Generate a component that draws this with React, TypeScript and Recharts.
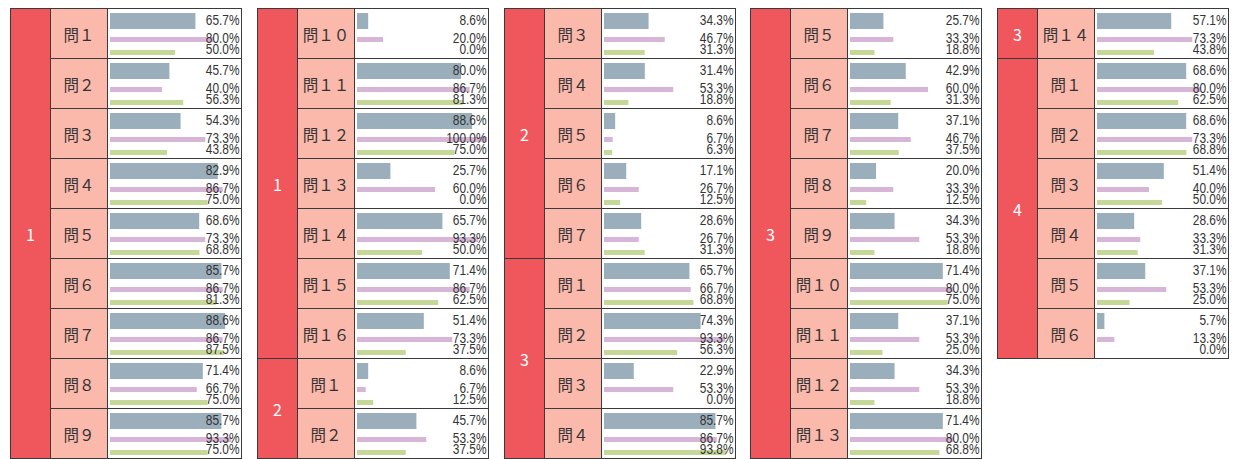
import React from "react";
import { BarChart, Bar, XAxis, YAxis, LabelList } from "recharts";

// sections (red column) and their question labels
const sectionNames = ["1", "2", "3", "4"];

const sec1Labels = ["問１", "問２", "問３", "問４", "問５", "問６", "問７", "問８", "問９", "問１０", "問１１", "問１２", "問１３", "問１４", "問１５", "問１６"];
const sec1A = [65.7, 45.7, 54.3, 82.9, 68.6, 85.7, 88.6, 71.4, 85.7, 8.6, 80.0, 88.6, 25.7, 65.7, 71.4, 51.4];
const sec1B = [80.0, 40.0, 73.3, 86.7, 73.3, 86.7, 86.7, 66.7, 93.3, 20.0, 86.7, 100.0, 60.0, 93.3, 86.7, 73.3];
const sec1C = [50.0, 56.3, 43.8, 75.0, 68.8, 81.3, 87.5, 75.0, 75.0, 0.0, 81.3, 75.0, 0.0, 50.0, 62.5, 37.5];

const sec2Labels = ["問１", "問２", "問３", "問４", "問５", "問６", "問７"];
const sec2A = [8.6, 45.7, 34.3, 31.4, 8.6, 17.1, 28.6];
const sec2B = [6.7, 53.3, 46.7, 53.3, 6.7, 26.7, 26.7];
const sec2C = [12.5, 37.5, 31.3, 18.8, 6.3, 12.5, 31.3];

const sec3Labels = ["問１", "問２", "問３", "問４", "問５", "問６", "問７", "問８", "問９", "問１０", "問１１", "問１２", "問１３", "問１４"];
const sec3A = [65.7, 74.3, 22.9, 85.7, 25.7, 42.9, 37.1, 20.0, 34.3, 71.4, 37.1, 34.3, 71.4, 57.1];
const sec3B = [66.7, 93.3, 53.3, 86.7, 33.3, 60.0, 46.7, 33.3, 53.3, 80.0, 53.3, 53.3, 80.0, 73.3];
const sec3C = [68.8, 56.3, 0.0, 93.8, 18.8, 31.3, 37.5, 12.5, 18.8, 75.0, 25.0, 18.8, 68.8, 43.8];

const sec4Labels = ["問１", "問２", "問３", "問４", "問５", "問６"];
const sec4A = [68.6, 68.6, 51.4, 28.6, 37.1, 5.7];
const sec4B = [80.0, 73.3, 40.0, 33.3, 53.3, 13.3];
const sec4C = [62.5, 68.8, 50.0, 31.3, 25.0, 0.0];

const ROWS_PER_PANEL = 9;

const RED = "#f0575c";
const PINK = "#fbb9ac";
const LINE = "#3a3a3a";
const COLOR_A = "#9baebb";
const COLOR_B = "#d7b5d6";
const COLOR_C = "#c5d898";

const CELL_W = 133;
const CELL_H = 49;
const TEXT_RIGHT = 131.5;

interface Row {
  section: string;
  label: string;
  a: number;
  b: number;
  c: number;
}

const sectionData = [
  [sec1Labels, sec1A, sec1B, sec1C],
  [sec2Labels, sec2A, sec2B, sec2C],
  [sec3Labels, sec3A, sec3B, sec3C],
  [sec4Labels, sec4A, sec4B, sec4C],
] as const;

const allRows: Row[] = [];
sectionData.forEach(([labels, a, b, c], si) => {
  labels.forEach((label, i) => {
    allRows.push({ section: sectionNames[si], label, a: a[i], b: b[i], c: c[i] });
  });
});

const panels: Row[][] = [];
for (let i = 0; i < allRows.length; i += ROWS_PER_PANEL) {
  panels.push(allRows.slice(i, i + ROWS_PER_PANEL));
}

function makeLabel(dy: number) {
  return (props: any) => {
    const vb = props.viewBox || {};
    const y = props.y ?? vb.y ?? 0;
    const h = props.height ?? vb.height ?? 0;
    const cy = y + h / 2 + dy + 5;
    return (
      <text
        transform={`translate(${TEXT_RIGHT},${cy}) scale(0.85,1)`}
        textAnchor="end"
        fontSize={14}
        fontFamily="'Liberation Sans', Arial, sans-serif"
        fill="#333"
      >
        {`${Number(props.value).toFixed(1)}%`}
      </text>
    );
  };
}

function BarCell({ row }: { row: Row }) {
  return (
    <BarChart
      width={CELL_W}
      height={CELL_H}
      layout="vertical"
      data={[row]}
      margin={{ top: 0, right: 1, left: 2, bottom: 0 }}
      barGap={8}
      barCategoryGap={0}
    >
      <XAxis type="number" domain={[0, 100]} hide />
      <YAxis type="category" dataKey="label" hide />
      <Bar dataKey="a" fill={COLOR_A} barSize={16} minPointSize={0.01} isAnimationActive={false}>
        <LabelList dataKey="a" content={makeLabel(-1)} />
      </Bar>
      <Bar dataKey="b" fill={COLOR_B} barSize={5} minPointSize={0.01} isAnimationActive={false}>
        <LabelList dataKey="b" content={makeLabel(-2)} />
      </Bar>
      <Bar dataKey="c" fill={COLOR_C} barSize={5} minPointSize={0.01} isAnimationActive={false}>
        <LabelList dataKey="c" content={makeLabel(-3.6)} />
      </Bar>
    </BarChart>
  );
}

function Panel({ rows, left }: { rows: Row[]; left: number }) {
  // contiguous runs of the same section make the red cells
  const groups: { name: string; start: number; span: number }[] = [];
  rows.forEach((r, i) => {
    const last = groups[groups.length - 1];
    if (last && last.name === r.section) last.span += 1;
    else groups.push({ name: r.section, start: i, span: 1 });
  });

  const textStyle: React.CSSProperties = {
    display: "flex",
    alignItems: "center",
    justifyContent: "center",
    fontFamily: "'Noto Sans CJK JP', sans-serif",
    fontSize: 15.5,
  };

  return (
    <div
      style={{
        position: "absolute",
        left,
        top: 8,
        display: "grid",
        gridTemplateColumns: `39px 56px ${CELL_W}px`,
        gridTemplateRows: `repeat(${rows.length}, ${CELL_H}px)`,
        gap: 1,
        padding: 1,
        background: LINE,
      }}
    >
      {groups.map((g) => (
        <div
          key={`g-${g.start}`}
          style={{ ...textStyle, fontSize: 16, gridColumn: 1, gridRow: `${g.start + 1} / span ${g.span}`, background: RED, color: "#fff" }}
        >
          {g.name}
        </div>
      ))}
      {rows.map((r, i) => (
        <React.Fragment key={i}>
          <div style={{ ...textStyle, gridColumn: 2, gridRow: i + 1, background: PINK, color: "#333" }}>{r.label}</div>
          <div style={{ gridColumn: 3, gridRow: i + 1, background: "#fff" }}>
            <BarCell row={r} />
          </div>
        </React.Fragment>
      ))}
    </div>
  );
}

export default function App() {
  return (
    <div style={{ position: "absolute", left: 0, top: 0, width: 1235, height: 459, background: "#fff" }}>
      {panels.map((rows, i) => (
        <Panel key={i} rows={rows} left={Math.round(10 + i * 246.8)} />
      ))}
    </div>
  );
}
